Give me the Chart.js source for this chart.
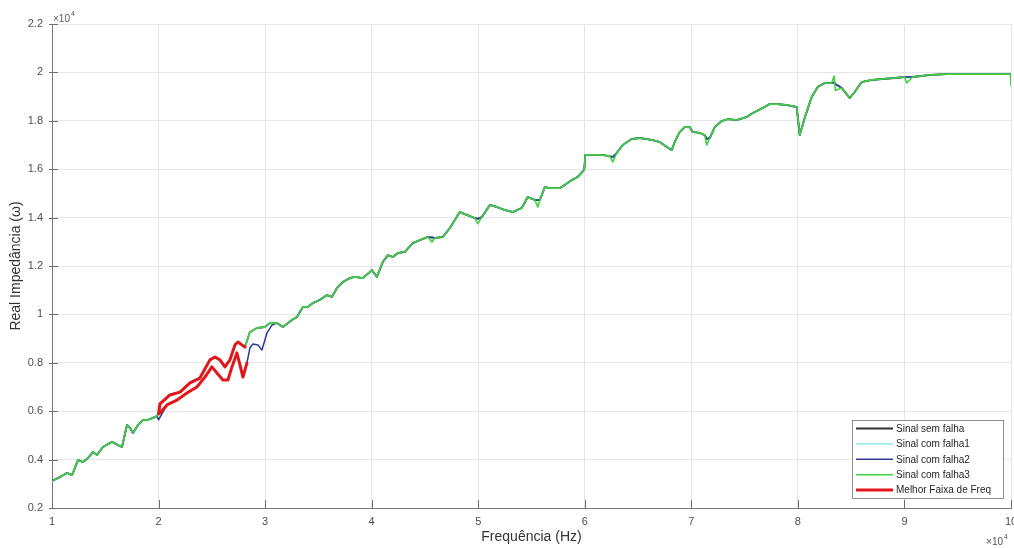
<!DOCTYPE html>
<html>
<head>
<meta charset="utf-8">
<title>Real Impedância x Frequência</title>
<script src="https://cdn.jsdelivr.net/npm/chart.js@4/dist/chart.umd.min.js"></script>
<style>
  html, body { margin: 0; padding: 0; background: #ffffff; }
  #c { display: block; }
</style>
</head>
<body>
<canvas id="c" width="1014" height="548"></canvas>
<script>
// Frequency in units of 1e4 Hz, real impedance in units of 1e4 ohm.
const freq = [
  1.000, 1.075, 1.141, 1.188, 1.244, 1.291, 1.338, 1.385, 1.422, 1.478,
  1.563, 1.619, 1.657, 1.704, 1.732, 1.760, 1.807, 1.854, 1.901, 1.947,
  1.985, 2.000, 2.013, 2.107, 2.201, 2.295, 2.388, 2.482, 2.529, 2.576,
  2.623, 2.670, 2.717, 2.745, 2.782, 2.811, 2.857, 2.923, 2.998, 3.045,
  3.111, 3.167, 3.251, 3.298, 3.355, 3.402, 3.448, 3.514, 3.580, 3.627,
  3.674, 3.730, 3.795, 3.842, 3.917, 4.002, 4.049, 4.105, 4.152, 4.199,
  4.246, 4.311, 4.386, 4.452, 4.527, 4.565, 4.593, 4.668, 4.734, 4.827,
  4.893, 4.968, 4.996, 5.034, 5.109, 5.174, 5.250, 5.325, 5.409, 5.465,
  5.531, 5.559, 5.578, 5.625, 5.672, 5.765, 5.812, 5.878, 5.934, 5.995,
  6.005, 6.075, 6.159, 6.235, 6.263, 6.300, 6.356, 6.441, 6.516, 6.629,
  6.704, 6.769, 6.816, 6.844, 6.891, 6.938, 6.985, 7.013, 7.079, 7.126,
  7.144, 7.173, 7.220, 7.285, 7.341, 7.426, 7.520, 7.576, 7.670, 7.735,
  7.801, 7.895, 7.989, 8.017, 8.064, 8.129, 8.186, 8.251, 8.317, 8.340,
  8.352, 8.411, 8.486, 8.533, 8.598, 8.692, 8.795, 8.908, 9.002, 9.021,
  9.077, 9.236, 9.396, 9.546, 9.705, 9.865, 9.995, 10.000
];

const semFalha = [
  0.312, 0.328, 0.345, 0.336, 0.398, 0.390, 0.407, 0.431, 0.419, 0.452,
  0.473, 0.460, 0.452, 0.543, 0.531, 0.510, 0.543, 0.564, 0.564, 0.572,
  0.580, 0.590, 0.630, 0.667, 0.679, 0.717, 0.737, 0.812, 0.824, 0.812,
  0.783, 0.812, 0.874, 0.886, 0.874, 0.865, 0.927, 0.944, 0.948, 0.964,
  0.964, 0.948, 0.977, 0.989, 1.031, 1.031, 1.047, 1.060, 1.080, 1.072,
  1.109, 1.134, 1.150, 1.155, 1.150, 1.183, 1.155, 1.217, 1.245, 1.237,
  1.254, 1.258, 1.295, 1.307, 1.320, 1.318, 1.316, 1.320, 1.357, 1.423,
  1.411, 1.398, 1.395, 1.402, 1.452, 1.444, 1.431, 1.423, 1.440, 1.485,
  1.473, 1.473, 1.473, 1.526, 1.522, 1.522, 1.535, 1.555, 1.568, 1.597,
  1.659, 1.659, 1.659, 1.654, 1.650, 1.667, 1.700, 1.725, 1.729, 1.721,
  1.712, 1.692, 1.679, 1.712, 1.754, 1.774, 1.774, 1.754, 1.750, 1.741,
  1.725, 1.729, 1.774, 1.799, 1.807, 1.803, 1.816, 1.832, 1.853, 1.869,
  1.869, 1.865, 1.857, 1.741, 1.812, 1.898, 1.940, 1.956, 1.956, 1.958,
  1.952, 1.936, 1.894, 1.919, 1.960, 1.969, 1.973, 1.977, 1.981, 1.981,
  1.981, 1.989, 1.993, 1.993, 1.993, 1.993, 1.993, 1.993
];

const comFalha1 = [
  0.312, 0.328, 0.345, 0.336, 0.398, 0.390, 0.407, 0.431, 0.419, 0.452,
  0.473, 0.460, 0.452, 0.543, 0.531, 0.510, 0.543, 0.564, 0.564, 0.572,
  0.580, 0.590, 0.630, 0.667, 0.679, 0.717, 0.737, 0.812, 0.824, 0.812,
  0.783, 0.812, 0.874, 0.886, 0.874, 0.865, 0.927, 0.944, 0.948, 0.964,
  0.964, 0.948, 0.977, 0.989, 1.031, 1.031, 1.047, 1.060, 1.080, 1.072,
  1.109, 1.134, 1.150, 1.155, 1.150, 1.183, 1.155, 1.217, 1.245, 1.237,
  1.254, 1.258, 1.295, 1.307, 1.320, 1.318, 1.316, 1.320, 1.357, 1.423,
  1.411, 1.398, 1.395, 1.402, 1.452, 1.444, 1.431, 1.423, 1.440, 1.485,
  1.473, 1.473, 1.473, 1.526, 1.522, 1.522, 1.535, 1.555, 1.568, 1.597,
  1.659, 1.659, 1.659, 1.654, 1.650, 1.667, 1.700, 1.725, 1.729, 1.721,
  1.712, 1.692, 1.679, 1.712, 1.754, 1.774, 1.774, 1.754, 1.750, 1.741,
  1.725, 1.729, 1.774, 1.799, 1.807, 1.803, 1.816, 1.832, 1.853, 1.869,
  1.869, 1.865, 1.857, 1.741, 1.812, 1.898, 1.940, 1.956, 1.956, 1.958,
  1.952, 1.936, 1.894, 1.919, 1.960, 1.969, 1.973, 1.977, 1.981, 1.981,
  1.981, 1.989, 1.993, 1.993, 1.993, 1.993, 1.993, 1.993
];

const comFalha3 = [
  0.312, 0.328, 0.345, 0.336, 0.398, 0.390, 0.407, 0.431, 0.419, 0.452,
  0.473, 0.460, 0.452, 0.543, 0.531, 0.510, 0.543, 0.564, 0.564, 0.572,
  0.580, 0.590, 0.630, 0.667, 0.679, 0.717, 0.737, 0.812, 0.824, 0.812,
  0.783, 0.812, 0.874, 0.886, 0.874, 0.865, 0.927, 0.944, 0.948, 0.964,
  0.964, 0.948, 0.977, 0.989, 1.031, 1.031, 1.047, 1.060, 1.080, 1.072,
  1.109, 1.134, 1.150, 1.155, 1.150, 1.183, 1.155, 1.217, 1.245, 1.237,
  1.254, 1.258, 1.295, 1.307, 1.320, 1.299, 1.316, 1.320, 1.357, 1.423,
  1.411, 1.398, 1.375, 1.402, 1.452, 1.444, 1.431, 1.423, 1.440, 1.485,
  1.473, 1.444, 1.473, 1.526, 1.522, 1.522, 1.535, 1.555, 1.568, 1.597,
  1.659, 1.659, 1.659, 1.654, 1.630, 1.667, 1.700, 1.725, 1.729, 1.721,
  1.712, 1.692, 1.679, 1.712, 1.754, 1.774, 1.774, 1.754, 1.750, 1.741,
  1.700, 1.729, 1.774, 1.799, 1.807, 1.803, 1.816, 1.832, 1.853, 1.869,
  1.869, 1.865, 1.857, 1.741, 1.812, 1.898, 1.940, 1.956, 1.956, 1.985,
  1.925, 1.936, 1.894, 1.919, 1.960, 1.969, 1.973, 1.977, 1.981, 1.956,
  1.981, 1.989, 1.993, 1.993, 1.993, 1.993, 1.993, 1.945
];

const freqFalha2 = [
  1.000, 1.075, 1.141, 1.188, 1.244, 1.291, 1.338, 1.385, 1.422, 1.478,
  1.563, 1.619, 1.657, 1.704, 1.732, 1.760, 1.807, 1.854, 1.901, 1.947,
  1.985, 2.000, 2.079, 2.173, 2.266, 2.360, 2.435, 2.501, 2.548, 2.604,
  2.651, 2.689, 2.735, 2.764, 2.792, 2.829, 2.857, 2.886, 2.932, 2.970,
  2.998, 3.017, 3.064, 3.111, 3.167, 3.251, 3.298, 3.355, 3.402, 3.448,
  3.514, 3.580, 3.627, 3.674, 3.730, 3.795, 3.842, 3.917, 4.002, 4.049,
  4.105, 4.152, 4.199, 4.246, 4.311, 4.386, 4.452, 4.527, 4.565, 4.593,
  4.668, 4.734, 4.827, 4.893, 4.968, 4.996, 5.034, 5.109, 5.174, 5.250,
  5.325, 5.409, 5.465, 5.531, 5.559, 5.578, 5.625, 5.672, 5.765, 5.812,
  5.878, 5.934, 5.995, 6.005, 6.075, 6.159, 6.235, 6.263, 6.300, 6.356,
  6.441, 6.516, 6.629, 6.704, 6.769, 6.816, 6.844, 6.891, 6.938, 6.985,
  7.013, 7.079, 7.126, 7.144, 7.173, 7.220, 7.285, 7.341, 7.426, 7.520,
  7.576, 7.670, 7.735, 7.801, 7.895, 7.989, 8.017, 8.064, 8.129, 8.186,
  8.251, 8.317, 8.340, 8.352, 8.411, 8.486, 8.533, 8.598, 8.692, 8.795,
  8.908, 9.002, 9.021, 9.077, 9.236, 9.396, 9.546, 9.705, 9.865, 9.995,
  10.000
];

const comFalha2 = [
  0.312, 0.328, 0.345, 0.336, 0.398, 0.390, 0.407, 0.431, 0.419, 0.452,
  0.473, 0.460, 0.452, 0.543, 0.531, 0.510, 0.543, 0.564, 0.564, 0.572,
  0.580, 0.564, 0.626, 0.646, 0.675, 0.700, 0.741, 0.783, 0.758, 0.729,
  0.729, 0.783, 0.841, 0.791, 0.741, 0.799, 0.861, 0.878, 0.874, 0.853,
  0.894, 0.923, 0.956, 0.964, 0.948, 0.977, 0.989, 1.031, 1.031, 1.047,
  1.060, 1.080, 1.072, 1.109, 1.134, 1.150, 1.155, 1.150, 1.183, 1.155,
  1.217, 1.245, 1.237, 1.254, 1.258, 1.295, 1.307, 1.320, 1.318, 1.316,
  1.320, 1.357, 1.423, 1.411, 1.398, 1.395, 1.402, 1.452, 1.444, 1.431,
  1.423, 1.440, 1.485, 1.473, 1.473, 1.473, 1.526, 1.522, 1.522, 1.535,
  1.555, 1.568, 1.597, 1.659, 1.659, 1.659, 1.654, 1.650, 1.667, 1.700,
  1.725, 1.729, 1.721, 1.712, 1.692, 1.679, 1.712, 1.754, 1.774, 1.774,
  1.754, 1.750, 1.741, 1.725, 1.729, 1.774, 1.799, 1.807, 1.803, 1.816,
  1.832, 1.853, 1.869, 1.869, 1.865, 1.857, 1.741, 1.812, 1.898, 1.940,
  1.956, 1.956, 1.958, 1.952, 1.936, 1.894, 1.919, 1.960, 1.969, 1.973,
  1.977, 1.981, 1.981, 1.981, 1.989, 1.993, 1.993, 1.993, 1.993, 1.993,
  1.993
];

// Best frequency band (2e4 .. 2.83e4 Hz): healthy and faulty traces
const freqFaixaA = [2.000, 2.013, 2.107, 2.201, 2.295, 2.388, 2.482, 2.529, 2.576, 2.623, 2.670, 2.717, 2.745, 2.782, 2.811];
const faixaA     = [0.590, 0.630, 0.667, 0.679, 0.717, 0.737, 0.812, 0.824, 0.812, 0.783, 0.812, 0.874, 0.886, 0.874, 0.865];
const freqFaixaB = [2.008, 2.079, 2.173, 2.266, 2.360, 2.435, 2.501, 2.548, 2.604, 2.651, 2.689, 2.735, 2.764, 2.792, 2.829];
const faixaB     = [0.590, 0.626, 0.646, 0.675, 0.700, 0.741, 0.783, 0.758, 0.729, 0.729, 0.783, 0.841, 0.791, 0.741, 0.799];

const xTicks = [1, 2, 3, 4, 5, 6, 7, 8, 9, 10];
const yTicks = [0.2, 0.4, 0.6, 0.8, 1, 1.2, 1.4, 1.6, 1.8, 2, 2.2];

const seriesNames  = ['Sinal sem falha', 'Sinal com falha1', 'Sinal com falha2', 'Sinal com falha3', 'Melhor Faixa de Freq'];
const seriesColors = ['#333333', '#78e4ea', '#2c3a94', '#40d240', '#e2161b'];

const FONT = '"Liberation Sans", Arial, Helvetica, sans-serif';

const pts = (xs, ys) => xs.map((x, i) => ({ x: x, y: ys[i] }));

function line(label, data, color, width, order, inLegend) {
  return {
    label: label, data: data, borderColor: color, backgroundColor: color,
    borderWidth: width, pointRadius: 0, fill: false, tension: 0,
    borderJoinStyle: 'round', borderCapStyle: 'round', order: order,
    inLegend: inLegend !== false
  };
}

const datasets = [
  line(seriesNames[0], pts(freq, semFalha),          seriesColors[0], 1.9, 6),
  line(seriesNames[1], pts(freq, comFalha1),         seriesColors[1], 1.3, 5),
  line(seriesNames[2], pts(freqFalha2, comFalha2),   seriesColors[2], 1.5, 4),
  line(seriesNames[3], pts(freq, comFalha3),         seriesColors[3], 1.6, 3),
  line(seriesNames[4], pts(freqFaixaA, faixaA),      seriesColors[4], 3.0, 2),
  line(seriesNames[4], pts(freqFaixaB, faixaB),      seriesColors[4], 3.0, 1, false)
];

// Axis decorations (tick marks, x10^4 multipliers) and the boxed legend
const decorations = {
  id: 'decorations',
  afterDraw(chart) {
    const ctx = chart.ctx;
    const xs = chart.scales.x, ys = chart.scales.y;
    const area = chart.chartArea;
    ctx.save();

    // tick marks
    ctx.strokeStyle = '#6e6e6e';
    ctx.lineWidth = 1;
    ctx.beginPath();
    xTicks.forEach(v => {
      const px = Math.round(xs.getPixelForValue(v)) + 0.5;
      ctx.moveTo(px, area.bottom);
      ctx.lineTo(px, area.bottom - 8);
    });
    yTicks.forEach(v => {
      const py = Math.round(ys.getPixelForValue(v)) + 0.5;
      ctx.moveTo(area.left - 3, py);
      ctx.lineTo(area.left + 6, py);
    });
    ctx.stroke();

    // exponent multipliers
    ctx.fillStyle = '#555555';
    ctx.textBaseline = 'alphabetic';
    ctx.textAlign = 'left';
    ctx.font = '10px ' + FONT;
    ctx.fillText('\u00d710', area.left + 1, area.top - 2);
    const w1 = ctx.measureText('\u00d710').width;
    ctx.font = '7px ' + FONT;
    ctx.fillText('4', area.left + 1 + w1 + 1, area.top - 8);

    ctx.font = '10px ' + FONT;
    const w2 = ctx.measureText('\u00d710').width;
    ctx.fillText('\u00d710', 1003 - w2, 545);
    ctx.font = '7px ' + FONT;
    ctx.fillText('4', 1004, 539);

    // legend
    const items = chart.data.datasets.filter(d => d.inLegend);
    const bx = 852, by = 420, bw = 151, bh = 78, rowH = 15.4;
    ctx.fillStyle = '#ffffff';
    ctx.fillRect(bx, by, bw, bh);
    ctx.strokeStyle = '#8c8c8c';
    ctx.lineWidth = 1;
    ctx.strokeRect(bx + 0.5, by + 0.5, bw, bh);
    ctx.font = '10px ' + FONT;
    ctx.textBaseline = 'middle';
    items.forEach((d, i) => {
      const cy = by + 8.5 + i * rowH;
      ctx.strokeStyle = d.borderColor;
      ctx.lineWidth = d.borderWidth;
      ctx.beginPath();
      ctx.moveTo(856, cy);
      ctx.lineTo(893, cy);
      ctx.stroke();
      ctx.fillStyle = '#262626';
      ctx.fillText(d.label, 896, cy + 0.5);
    });
    ctx.restore();
  }
};

new Chart(document.getElementById('c'), {
  type: 'line',
  data: { datasets: datasets },
  options: {
    responsive: false,
    animation: false,
    devicePixelRatio: 1,
    layout: { padding: { top: 24, right: 3, left: 0, bottom: 0 } },
    plugins: { legend: { display: false }, tooltip: { enabled: false } },
    scales: {
      x: {
        type: 'linear', min: 1, max: 10,
        afterBuildTicks: s => { s.ticks = xTicks.map(v => ({ value: v })); },
        afterFit: s => { s.height = 40; s.paddingLeft = 0; s.paddingRight = 0; },
        grid: { color: '#e6e6e6', lineWidth: 1, drawTicks: false },
        border: { color: '#7a7a7a', width: 1 },
        ticks: {
          padding: 7, color: '#4d4d4d', maxRotation: 0, autoSkip: false,
          font: { family: FONT, size: 11 },
          callback: v => String(v)
        },
        title: {
          display: true, text: 'Frequência (Hz)', color: '#333333',
          font: { family: FONT, size: 14 }, padding: { top: 0, bottom: 2 }
        }
      },
      y: {
        type: 'linear', min: 0.2, max: 2.2,
        afterBuildTicks: s => { s.ticks = yTicks.map(v => ({ value: v })); },
        afterFit: s => { s.width = 52; s.paddingTop = 0; s.paddingBottom = 0; },
        grid: { color: '#e6e6e6', lineWidth: 1, drawTicks: false },
        border: { color: '#7a7a7a', width: 1 },
        ticks: {
          padding: 9, color: '#4d4d4d', autoSkip: false,
          font: { family: FONT, size: 11 },
          callback: v => String(+v.toFixed(1))
        },
        title: {
          display: true, text: 'Real Impedância (\u03c9)', color: '#333333',
          font: { family: FONT, size: 14 }, padding: { top: 8, bottom: 0 }
        }
      }
    }
  },
  plugins: [decorations]
});
</script>
</body>
</html>
